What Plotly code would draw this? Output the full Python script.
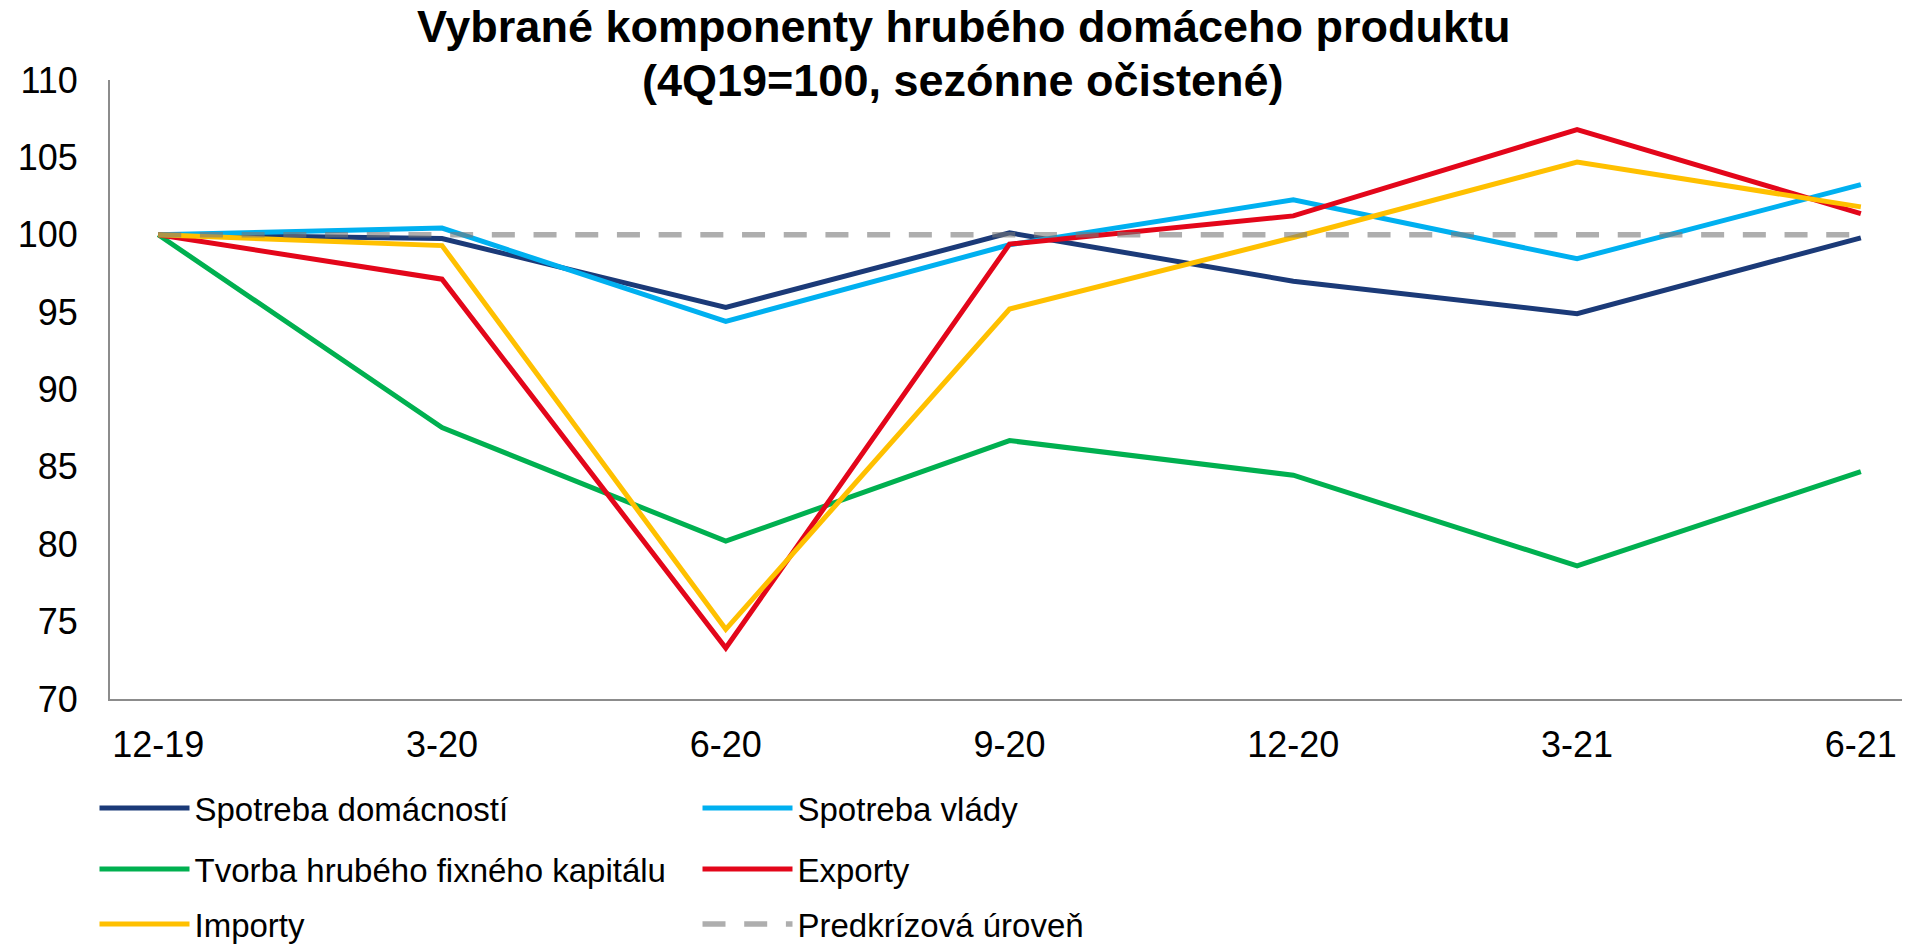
import plotly.graph_objects as go

categories = ["12-19", "3-20", "6-20", "9-20", "12-20", "3-21", "6-21"]
spotreba_domacnosti = [100, 99.76, 95.3, 100.12, 97.0, 94.9, 99.8]
spotreba_vlady = [100, 100.43, 94.4, 99.35, 102.26, 98.45, 103.24]
tvorba_kapitalu = [100, 87.54, 80.2, 86.7, 84.46, 78.6, 84.7]
exporty = [100, 97.13, 73.3, 99.4, 101.22, 106.8, 101.37]
importy = [100, 99.3, 74.5, 95.2, 99.82, 104.7, 101.8]
predkrizova = [100, 100, 100, 100, 100, 100, 100]

title_lines = ["Vybrané komponenty hrubého domáceho produktu",
               "(4Q19=100, sezónne očistené)"]

FONT = "Liberation Sans, Arial, sans-serif"
W = 1906
H = 944
ML, MR, MT, MB = 110, 4, 80, 245
PW = W - ML - MR
PH = H - MT - MB

series = [
    ("Spotreba domácností", spotreba_domacnosti, "#1B3A78", "legend"),
    ("Spotreba vlády", spotreba_vlady, "#00B0F0", "legend"),
    ("Tvorba hrubého fixného kapitálu", tvorba_kapitalu, "#00B050", "legend2"),
    ("Exporty", exporty, "#E3061A", "legend2"),
    ("Importy", importy, "#FFC000", "legend3"),
]

fig = go.Figure()
for name, vals, color, lg in series:
    fig.add_trace(go.Scatter(
        x=categories, y=vals, mode="lines", name=name,
        line=dict(color=color, width=5),
        legend=lg,
    ))
fig.add_trace(go.Scatter(
    x=categories, y=predkrizova, mode="lines", name="Predkrízová úroveň",
    line=dict(color="rgba(120,120,120,0.6)", width=5.5, dash="23px,18.7px"),
    legend="legend3",
))

leg_common = dict(
    orientation="h", xref="container", yref="container",
    x=94.5 / W, xanchor="left", yanchor="middle",
    font=dict(family=FONT, size=33, color="#000000"),
    itemwidth=90,
    entrywidth=498, bgcolor="rgba(0,0,0,0)", borderwidth=0,
    traceorder="normal", maxheight=1,
)

# title as two annotation lines
title_y_px = [27, 81]
for txt, ypx in zip(title_lines, title_y_px):
    fig.add_annotation(
        text="<b>" + txt + "</b>", showarrow=False,
        xref="paper", yref="paper",
        x=(963 - ML) / PW, y=(H - MB - ypx) / PH,
        xanchor="center", yanchor="middle",
        font=dict(family=FONT, size=45, color="#000000"),
    )

fig.update_layout(
    width=W, height=H,
    paper_bgcolor="white", plot_bgcolor="white",
    margin=dict(l=ML, r=MR, t=MT, b=MB, autoexpand=False),
    font=dict(family=FONT, size=36, color="#000000"),
    xaxis=dict(
        type="category", range=[-0.17, 6.145],
        showline=True, linecolor="#8C8C8C", linewidth=2,
        showgrid=False, zeroline=False, ticks="",
        tickfont=dict(family=FONT, size=36, color="#000000"),
        ticklabelstandoff=13, automargin=False,
    ),
    yaxis=dict(
        range=[70, 110], dtick=5, tick0=70,
        showline=True, linecolor="#8C8C8C", linewidth=2,
        showgrid=False, zeroline=False, ticks="",
        tickfont=dict(family=FONT, size=36, color="#000000"),
        ticklabelstandoff=23, automargin=False,
    ),
    legend=dict(leg_common, y=1 - 808 / H),
    legend2=dict(leg_common, y=1 - 869 / H),
    legend3=dict(leg_common, y=1 - 924 / H),
    showlegend=True,
)

fig.write_html("out.html", config={"displayModeBar": False},
               post_script="document.body.style.margin='0';")
